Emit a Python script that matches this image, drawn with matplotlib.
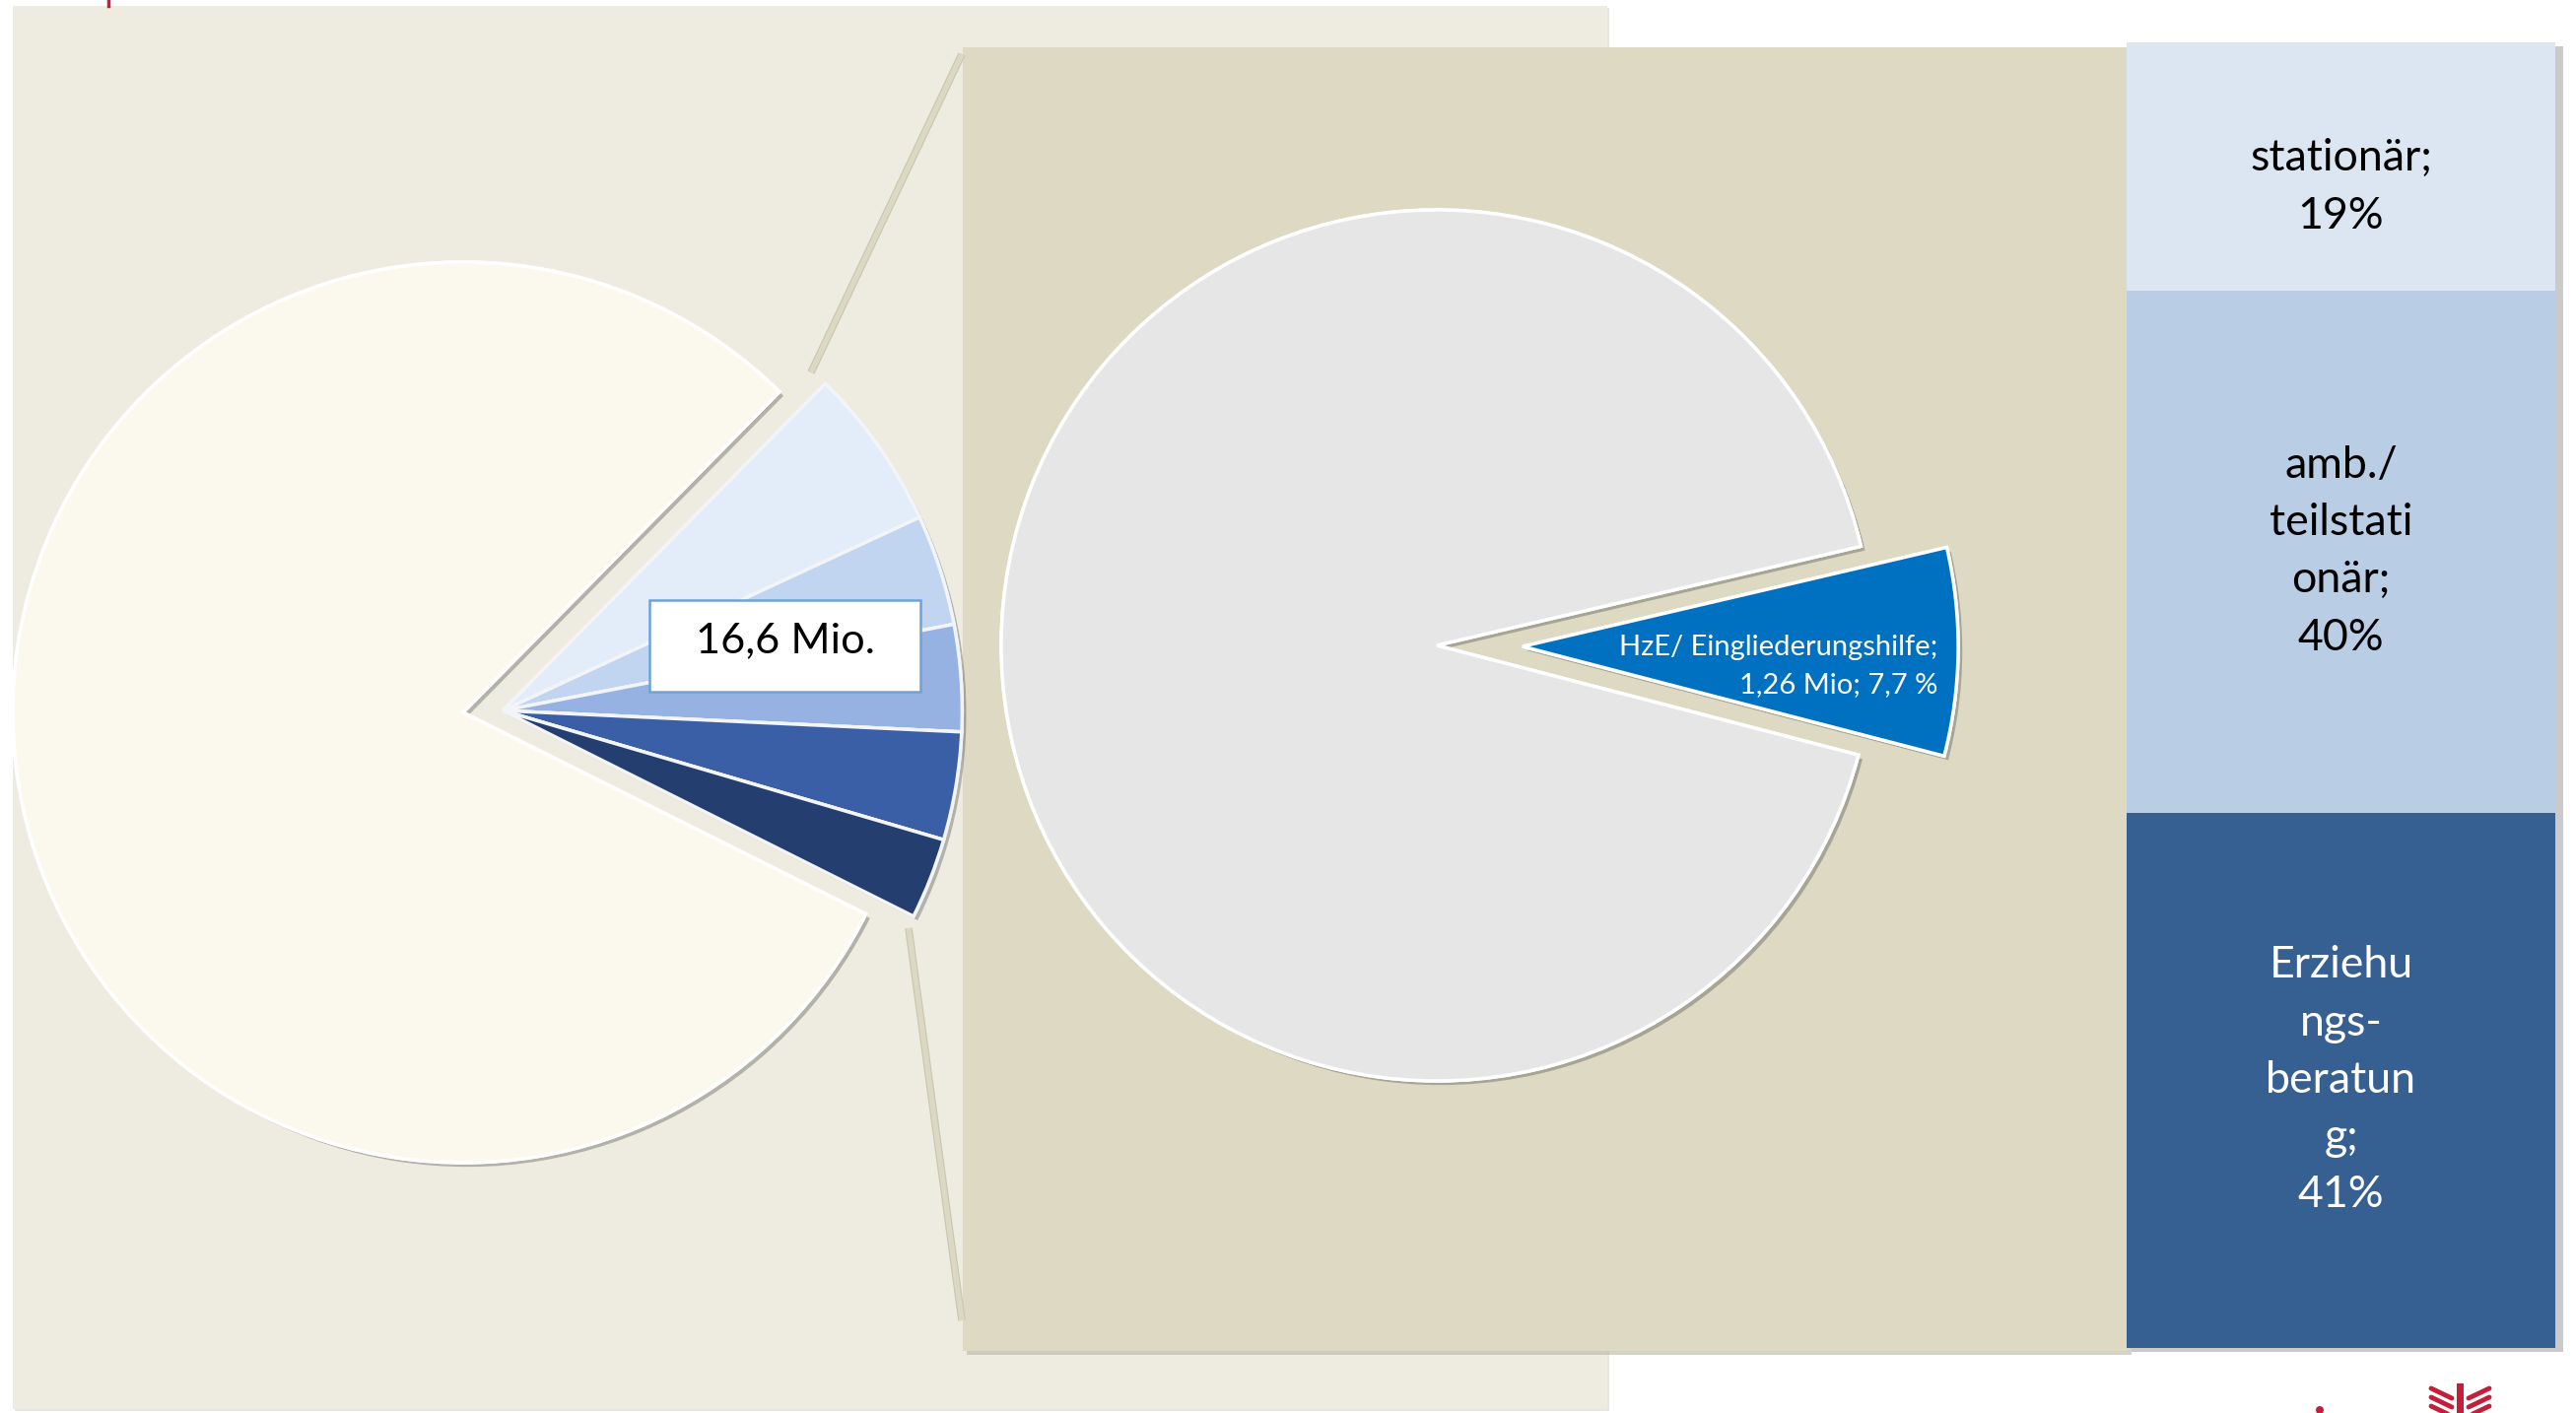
import matplotlib
matplotlib.use("Agg")
import matplotlib.pyplot as plt
import matplotlib.patheffects as pe
from matplotlib.patches import Rectangle, Circle

W, H = 2614, 1434
DPI = 100
FONT = "Lato"

# left pie: the five blue parts (top to bottom) and the remaining share, in percent
left_parts = [5.7, 3.9, 3.75, 3.8, 2.85]
left_rest = 80.0
left_colors = ["#E3EDFA", "#C1D4F0", "#95B2E2", "#3A5FA6", "#243F6F"]
rest_color = "#FBF9EE"
total_label = "16,6 Mio."

# middle pie: HzE share vs. rest
mid_values = [7.7, 92.3]
mid_colors = ["#0070C0", "#E6E6E6"]
mid_label = "HzE/ Eingliederungshilfe;\n1,26 Mio; 7,7 %"

# stacked bar, bottom to top
bar_labels = ["Erziehu\nngs-\nberatun\ng;", "amb./\nteilstati\nonär;", "stationär;"]
bar_values = [41, 40, 19]
bar_colors = ["#376092", "#B9CDE5", "#DCE6F2"]
bar_text_colors = ["white", "black", "black"]
bar_label_shift = [0, 0, -21]   # px, Excel puts the top label a bit lower


def axes_px(fig, x0, y0, w, h):
    """Add axes given in pixel units measured from the top-left corner."""
    return fig.add_axes([x0 / W, 1 - (y0 + h) / H, w / W, h / H])


def fit_size(fig, sample, target_px):
    renderer = fig.canvas.get_renderer()
    t = fig.text(0, 0, sample, fontsize=10, family=FONT)
    w = t.get_window_extent(renderer).width
    t.remove()
    return 10 * target_px / w


def spacing_for(fig, fontsize, gap_px):
    """linespacing value that gives a line advance of roughly gap_px."""
    renderer = fig.canvas.get_renderer()
    t1 = fig.text(0, 0, "Ag", fontsize=fontsize, family=FONT, linespacing=1.0)
    t2 = fig.text(0, 0, "Ag\nAg", fontsize=fontsize, family=FONT, linespacing=1.0)
    adv = t2.get_window_extent(renderer).height - t1.get_window_extent(renderer).height
    t1.remove()
    t2.remove()
    return gap_px / adv


def main() -> None:
    fig = plt.figure(figsize=(W / DPI, H / DPI), dpi=DPI)
    fig.patch.set_facecolor("white")

    # background: panels and connector lines
    bg = axes_px(fig, 0, 0, W, H)
    bg.set_xlim(0, W)
    bg.set_ylim(H, 0)
    bg.axis("off")
    bg.add_patch(Rectangle((15, 8), 1618, 1424, fc="#D8D6CC", ec="none", alpha=0.6))
    bg.add_patch(Rectangle((13, 6), 1618, 1424, fc="#EEECE1", ec="none"))
    bg.add_patch(Rectangle((981, 52), 1182, 1323, fc="#B8B5A5", ec="none", alpha=0.6))
    bg.add_patch(Rectangle((977, 48), 1182, 1323, fc="#DDD9C3", ec="none"))
    bg.add_patch(Rectangle((2163, 47), 438, 1325, fc="#8A8A8A", ec="none", alpha=0.45))
    line_fx = [pe.Stroke(linewidth=5.5, foreground="#CAC6B0"), pe.Normal()]
    bg.plot([823, 976], [378, 55], color="#DCD8C4", lw=3.8, solid_capstyle="butt",
            path_effects=line_fx)
    bg.plot([922, 976], [942, 1340], color="#DCD8C4", lw=3.8, solid_capstyle="butt",
            path_effects=line_fx)

    # small red fragments (cut-off title, logo)
    red = "#C41E3A"
    bg.plot([110, 110], [0, 6], color=red, lw=2.5)
    bg.add_patch(Rectangle((2493, 1404), 7, 30, fc=red, ec="none"))
    for dy in (0, 9, 18):
        bg.plot([2467, 2488], [1409 + dy, 1419 + dy], color=red, lw=3.5, solid_capstyle="round")
        bg.plot([2526, 2505], [1409 + dy, 1419 + dy], color=red, lw=3.5, solid_capstyle="round")
    bg.add_patch(Circle((2354, 1431), 4, fc=red, ec="none"))

    shadow = [pe.withSimplePatchShadow(offset=(3, -3), shadow_rgbFace="#444444", alpha=0.35),
              pe.Normal()]

    # left pie
    r_left = 457
    L = 1.2
    s = 2 * L * r_left
    ax1 = axes_px(fig, 470 - s / 2, 723 - s / 2, s, s)
    vals = left_parts + [left_rest]
    w_rest, _ = ax1.pie(vals, colors=left_colors + [rest_color], startangle=45.4,
                        counterclock=False, radius=1.0, center=(0, 0),
                        wedgeprops=dict(edgecolor="white", linewidth=2.5, path_effects=shadow))
    for w in w_rest[:-1]:
        w.set_visible(False)
    w_parts, _ = ax1.pie(vals, colors=left_colors + [rest_color], startangle=45.4,
                         counterclock=False, radius=1.02, center=(0.088, 0.004),
                         wedgeprops=dict(edgecolor="#F2F4F8", linewidth=2.5, path_effects=shadow))
    w_parts[-1].set_visible(False)
    ax1.set_xlim(-L, L)
    ax1.set_ylim(-L, L)
    ax1.set_aspect("equal")
    ax1.axis("off")

    # label box "16,6 Mio."
    bx0, by0, bw, bh = 659, 609, 275, 93
    ax1.add_patch(Rectangle(((bx0 - 470) / r_left, (723 - by0 - bh) / r_left),
                            bw / r_left, bh / r_left, fc="white", ec="#6FA3D8", lw=1.8, zorder=5))
    fs_box = fit_size(fig, total_label, 182)
    ax1.text((bx0 + bw / 2 - 470) / r_left, (723 - 650) / r_left, total_label,
             ha="center", va="center", fontsize=fs_box, family=FONT, color="black", zorder=6)

    # middle pie
    r_mid = 442
    L2 = 1.3
    s2 = 2 * L2 * r_mid
    ax2 = axes_px(fig, 1458 - s2 / 2, 655 - s2 / 2, s2, s2)
    ax2.pie(mid_values, colors=mid_colors, explode=[0.197, 0], startangle=13.15,
            counterclock=False,
            wedgeprops=dict(edgecolor="white", linewidth=2.5, path_effects=shadow))
    ax2.set_xlim(-L2, L2)
    ax2.set_ylim(-L2, L2)
    ax2.set_aspect("equal")
    ax2.axis("off")
    fs_mid = fit_size(fig, mid_label.split("\n")[0], 322)
    ax2.text((1966 - 1458) / r_mid, -(676 - 655) / r_mid, mid_label, ha="right", va="center",
             color="white", fontsize=fs_mid, family=FONT,
             linespacing=spacing_for(fig, fs_mid, 41.5))

    # stacked bar
    ax3 = axes_px(fig, 2158, 43, 435, 1325)
    total = sum(bar_values)
    px_per_unit = 1325 / total
    bottom = 0
    fs_bar = fit_size(fig, "stationär;", 185)
    ls_bar = spacing_for(fig, fs_bar, 62.5)
    for lab, v, c, tc, sh in zip(bar_labels, bar_values, bar_colors, bar_text_colors,
                                 bar_label_shift):
        ax3.bar(0, v, bottom=bottom, width=1.0, color=c, edgecolor="none")
        ax3.text(0, bottom + v / 2 + sh / px_per_unit, f"{lab}\n{v}%", ha="center",
                 va="center", color=tc, fontsize=fs_bar, family=FONT, linespacing=ls_bar)
        bottom += v
    ax3.set_xlim(-0.5, 0.5)
    ax3.set_ylim(0, total)
    ax3.axis("off")

    fig.savefig("out.png", dpi=DPI, facecolor=fig.get_facecolor())
    plt.close(fig)


if __name__ == "__main__":
    main()
